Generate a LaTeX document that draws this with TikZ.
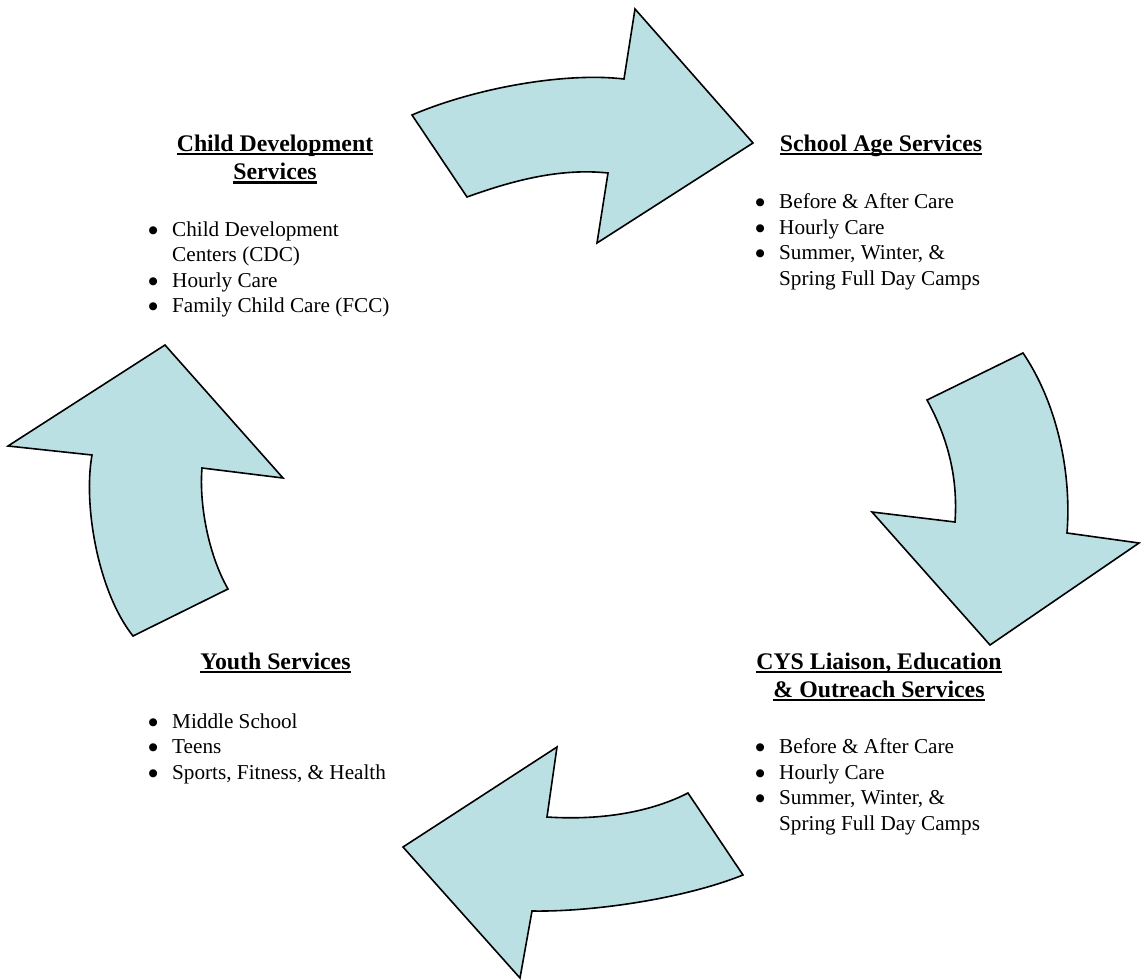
\documentclass[tikz,border=0pt]{standalone}
\usepackage{fontspec}
\setmainfont{Liberation Serif}
\newfontfamily\symfont{DejaVu Sans}
\definecolor{arrowfill}{RGB}{187,224,227}
\newsavebox\hdbox
\newcommand{\hdul}[1]{\sbox\hdbox{#1}\rlap{\rule[-4pt]{\wd\hdbox}{2.2pt}}\usebox\hdbox}
\newcommand{\bul}{\makebox[0pt][r]{\raisebox{2.6pt}{\symfont\fontsize{10.5}{11}\selectfont ●}\hspace{14.5pt}}}
\begin{document}
\begin{tikzpicture}[x=1pt,y=-1pt,
  arrowshape/.style={draw=black, line width=1.6pt, fill=arrowfill, line join=miter},
  head/.style={inner sep=0pt, anchor=base, font=\fontsize{23.8}{27.4}\selectfont\bfseries},
  item/.style={inner sep=0pt, anchor=base west, font=\fontsize{21.2}{25.3}\selectfont}]
\useasboundingbox (0,0) rectangle (1141,980);

% top arrow (to the right)
\draw[arrowshape] (412,115) .. controls (475,88) and (565,72) .. (624,79)
  -- (635,9) -- (753,143) -- (597,243) -- (608,173)
  .. controls (561,168) and (514,180) .. (467,197) -- cycle;
% right arrow (down)
\draw[arrowshape] (927,400) -- (1023,353)
  .. controls (1055,400) and (1072,468) .. (1067,533)
  -- (1139,543) -- (990,645) -- (872,512) -- (955,522)
  .. controls (958,480) and (949,440) .. (927,400) -- cycle;
% bottom arrow (to the left)
\draw[arrowshape] (688,793) -- (743,875)
  .. controls (683,899) and (592,912) .. (532,911)
  -- (520,978) -- (403,847) -- (557,747) -- (547,817)
  .. controls (592,820) and (645,815) .. (688,793) -- cycle;
% left arrow (up)
\draw[arrowshape] (133,636) -- (228,589)
  .. controls (208,554) and (199,503) .. (202,468)
  -- (283,478) -- (165,345) -- (8,446) -- (92,455)
  .. controls (83,505) and (98,592) .. (133,636) -- cycle;

% Child Development Services
\node[head] (cdh1) at (275,151) {\hdul{Child Development}};
\node[head] (cdh2) at (275,179.5) {\hdul{Services}};
\node[item] (cd1) at (172,236) {\bul Child Development};
\node[item] (cd2) at (172,261.5) {Centers (CDC)};
\node[item] (cd3) at (172,287) {\bul Hourly Care};
\node[item] (cd4) at (172,312.5) {\bul Family Child Care (FCC)};

% School Age Services
\node[head] (sah1) at (881,151) {\hdul{School Age Services}};
\node[item] (sa1) at (779,208.5) {\bul Before \& After Care};
\node[item] (sa2) at (779,234) {\bul Hourly Care};
\node[item] (sa3) at (779,259.5) {\bul Summer, Winter, \&};
\node[item] (sa4) at (779,285) {Spring Full Day Camps};

% CYS Liaison
\node[head] (cyh1) at (879,669) {\hdul{CYS Liaison, Education}};
\node[head] (cyh2) at (879,697) {\hdul{\& Outreach Services}};
\node[item] (cy1) at (779,753.5) {\bul Before \& After Care};
\node[item] (cy2) at (779,779) {\bul Hourly Care};
\node[item] (cy3) at (779,804.5) {\bul Summer, Winter, \&};
\node[item] (cy4) at (779,830) {Spring Full Day Camps};

% Youth Services
\node[head] (yh1) at (275.5,669) {\hdul{Youth Services}};
\node[item] (y1) at (172,728) {\bul Middle School};
\node[item] (y2) at (172,753.5) {\bul Teens};
\node[item] (y3) at (172,779) {\bul Sports, Fitness, \& Health};
\end{tikzpicture}
\end{document}
